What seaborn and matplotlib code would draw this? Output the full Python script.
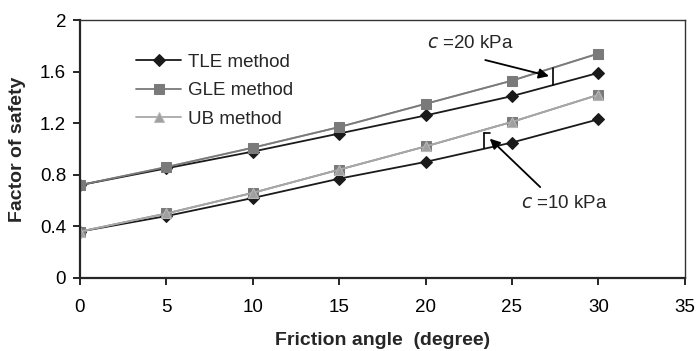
import pandas as pd
import seaborn as sns
import matplotlib.pyplot as plt

# Dados
angulo = [0, 5, 10, 15, 20, 25, 30]
tle_c20 = [0.72, 0.85, 0.98, 1.12, 1.26, 1.41, 1.59]
gle_c20 = [0.72, 0.86, 1.01, 1.17, 1.35, 1.53, 1.74]
ub_c20 = [0.72, 0.86, 1.01, 1.17, 1.35, 1.53, 1.74]
tle_c10 = [0.36, 0.48, 0.62, 0.77, 0.90, 1.05, 1.23]
gle_c10 = [0.36, 0.50, 0.66, 0.84, 1.02, 1.21, 1.42]
ub_c10 = [0.36, 0.50, 0.66, 0.84, 1.02, 1.21, 1.42]

sns.set_style('ticks')
plt.rcParams['font.family'] = ['Liberation Sans', 'DejaVu Sans']

fig = plt.figure(figsize=(6.98, 3.51), dpi=100)
ax = fig.add_axes([0.1146, 0.208, 0.8664, 0.735])

estilos = {
    'TLE method': dict(color='#1a1a1a', marker='D', mfc='#1a1a1a', mec='#1a1a1a', ms=6.5),
    'GLE method': dict(color='#7a7a7a', marker='s', mfc='#7a7a7a', mec='#7a7a7a', ms=7),
    'UB method': dict(color='#a8a8a8', marker='^', mfc='#a0a0a0', mec='#b8b8b8', ms=7.5),
}

# c = 20 kPa (UB por baixo do GLE)
sns.lineplot(x=angulo, y=ub_c20, ax=ax, lw=1.3, **estilos['UB method'])
sns.lineplot(x=angulo, y=tle_c20, ax=ax, lw=1.3, label='TLE method', **estilos['TLE method'])
sns.lineplot(x=angulo, y=gle_c20, ax=ax, lw=1.3, label='GLE method', **estilos['GLE method'])
# c = 10 kPa
sns.lineplot(x=angulo, y=tle_c10, ax=ax, lw=1.3, **estilos['TLE method'])
sns.lineplot(x=angulo, y=gle_c10, ax=ax, lw=1.3, **estilos['GLE method'])
sns.lineplot(x=angulo, y=ub_c10, ax=ax, lw=1.3, label='UB method', **estilos['UB method'])

ax.set_xlim(0, 35)
ax.set_ylim(0, 2)
ax.set_xticks(range(0, 36, 5))
ax.set_yticks([0, 0.4, 0.8, 1.2, 1.6, 2])
ax.set_yticklabels(['0', '0.4', '0.8', '1.2', '1.6', '2'])
ax.tick_params(direction='out', length=5, width=1.2, labelsize=13.5, colors='black', pad=5)
ax.tick_params(axis='x', pad=10)
for lado in ['left', 'bottom']:
    ax.spines[lado].set_linewidth(1.6)
for lado in ['top', 'right']:
    ax.spines[lado].set_linewidth(1.0)
    ax.spines[lado].set_color('#333333')

ax.set_xlabel('Friction angle  (degree)', fontsize=14, fontweight='bold', labelpad=12)
ax.set_ylabel('Factor of safety', fontsize=14, fontweight='bold', labelpad=10)

leg = ax.legend(loc='upper left', bbox_to_anchor=(0.065, 0.935), frameon=False,
                fontsize=13.5, handlelength=2.4, handletextpad=0.35, labelspacing=0.6)

# Anotacoes
ax.plot([27.4, 27.4], [1.50, 1.63], color='black', lw=1.2)
ax.annotate('', xy=(27.3, 1.56), xytext=(23.3, 1.695),
            arrowprops=dict(arrowstyle='-|>', color='black', lw=1.3, mutation_scale=15))
ax.text(20.1, 1.82, r'$c$ =20 kPa', fontsize=13.5, va='center')

ax.plot([23.4, 23.4], [1.01, 1.125], color='black', lw=1.2)
ax.plot([23.4, 23.75], [1.125, 1.125], color='black', lw=1.2)
ax.annotate('', xy=(23.6, 1.095), xytext=(26.75, 0.69),
            arrowprops=dict(arrowstyle='-|>', color='black', lw=1.3, mutation_scale=15))
ax.text(25.5, 0.58, r'$c$ =10 kPa', fontsize=13.5, va='center')

fig.savefig('out.png', dpi=100)
